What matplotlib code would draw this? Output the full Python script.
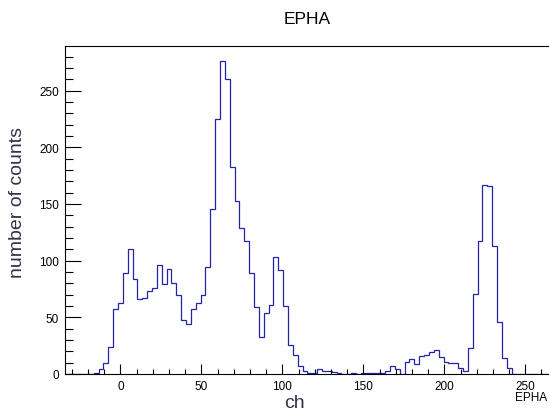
import numpy as np
import matplotlib
matplotlib.use("Agg")
import matplotlib.pyplot as plt
from matplotlib.ticker import MultipleLocator

plt.rcParams['font.family'] = ['Liberation Sans', 'DejaVu Sans']

# histogram EPHA: 100 bins of width 3 from -34.5 to 265.5
bin_lo, bin_hi, nbins = -34.5, 265.5, 100
counts = [
    0, 0, 0, 0, 0, 0, 1, 4, 10, 24,
    57, 63, 89, 110, 84, 66, 67, 73, 76, 96,
    79, 93, 80, 70, 48, 44, 57, 63, 70, 94,
    146, 225, 276, 260, 183, 153, 129, 117, 89, 59,
    33, 54, 61, 103, 92, 60, 26, 17, 7, 3,
    1, 1, 4, 3, 3, 2, 1, 0, 0, 1,
    0, 1, 1, 1, 1, 1, 3, 7, 4, 0,
    11, 13, 9, 16, 17, 19, 21, 15, 11, 10,
    10, 5, 3, 23, 71, 117, 167, 166, 113, 46,
    14, 5, 0, 0, 0, 0, 0, 0, 0, 0,
]
title = "EPHA"
xlabel = "ch"
ylabel = "number of counts"

edges = np.linspace(bin_lo, bin_hi, nbins + 1)
counts = np.asarray(counts)

W, H = 549, 414
fig = plt.figure(figsize=(W / 100, H / 100), dpi=100)
left, right, top, bottom = 64.5, 550.4, 46.5, 375.0
ax = fig.add_axes([left / W, 1 - bottom / H, (right - left) / W, (bottom - top) / H])

ax.stairs(counts, edges, color='#2323a8', lw=0.9, zorder=1)

ax.set_xlim(bin_lo, bin_hi)
ax.set_ylim(0, 1.05 * counts.max())

ax.xaxis.set_major_locator(MultipleLocator(50))
ax.xaxis.set_minor_locator(MultipleLocator(10))
ax.yaxis.set_major_locator(MultipleLocator(50))
ax.yaxis.set_minor_locator(MultipleLocator(10))

ax.tick_params(axis='both', which='both', direction='in', labelsize=8.5,
               colors='black', width=0.8)
ax.tick_params(axis='x', which='major', length=7.2, pad=4)
ax.tick_params(axis='x', which='minor', length=3.6)
ax.tick_params(axis='y', which='major', length=11.5, pad=4)
ax.tick_params(axis='y', which='minor', length=6)

for s in ax.spines.values():
    s.set_linewidth(0.8)
    s.set_zorder(3)

fig.text(307 / W, 1 - 20 / H, title, ha='center', va='center', fontsize=12.5)
fig.text(294 / W, 1 - 404 / H, xlabel, ha='center', va='center',
         fontsize=14, color='#2f3447')
fig.text(18 / W, 1 - 203 / H, ylabel, ha='center', va='center',
         fontsize=14, rotation=90, color='#2f3447')
fig.text(531 / W, 1 - 398 / H, title, ha='center', va='center', fontsize=8.5)

fig.savefig('out.png', dpi=100)
